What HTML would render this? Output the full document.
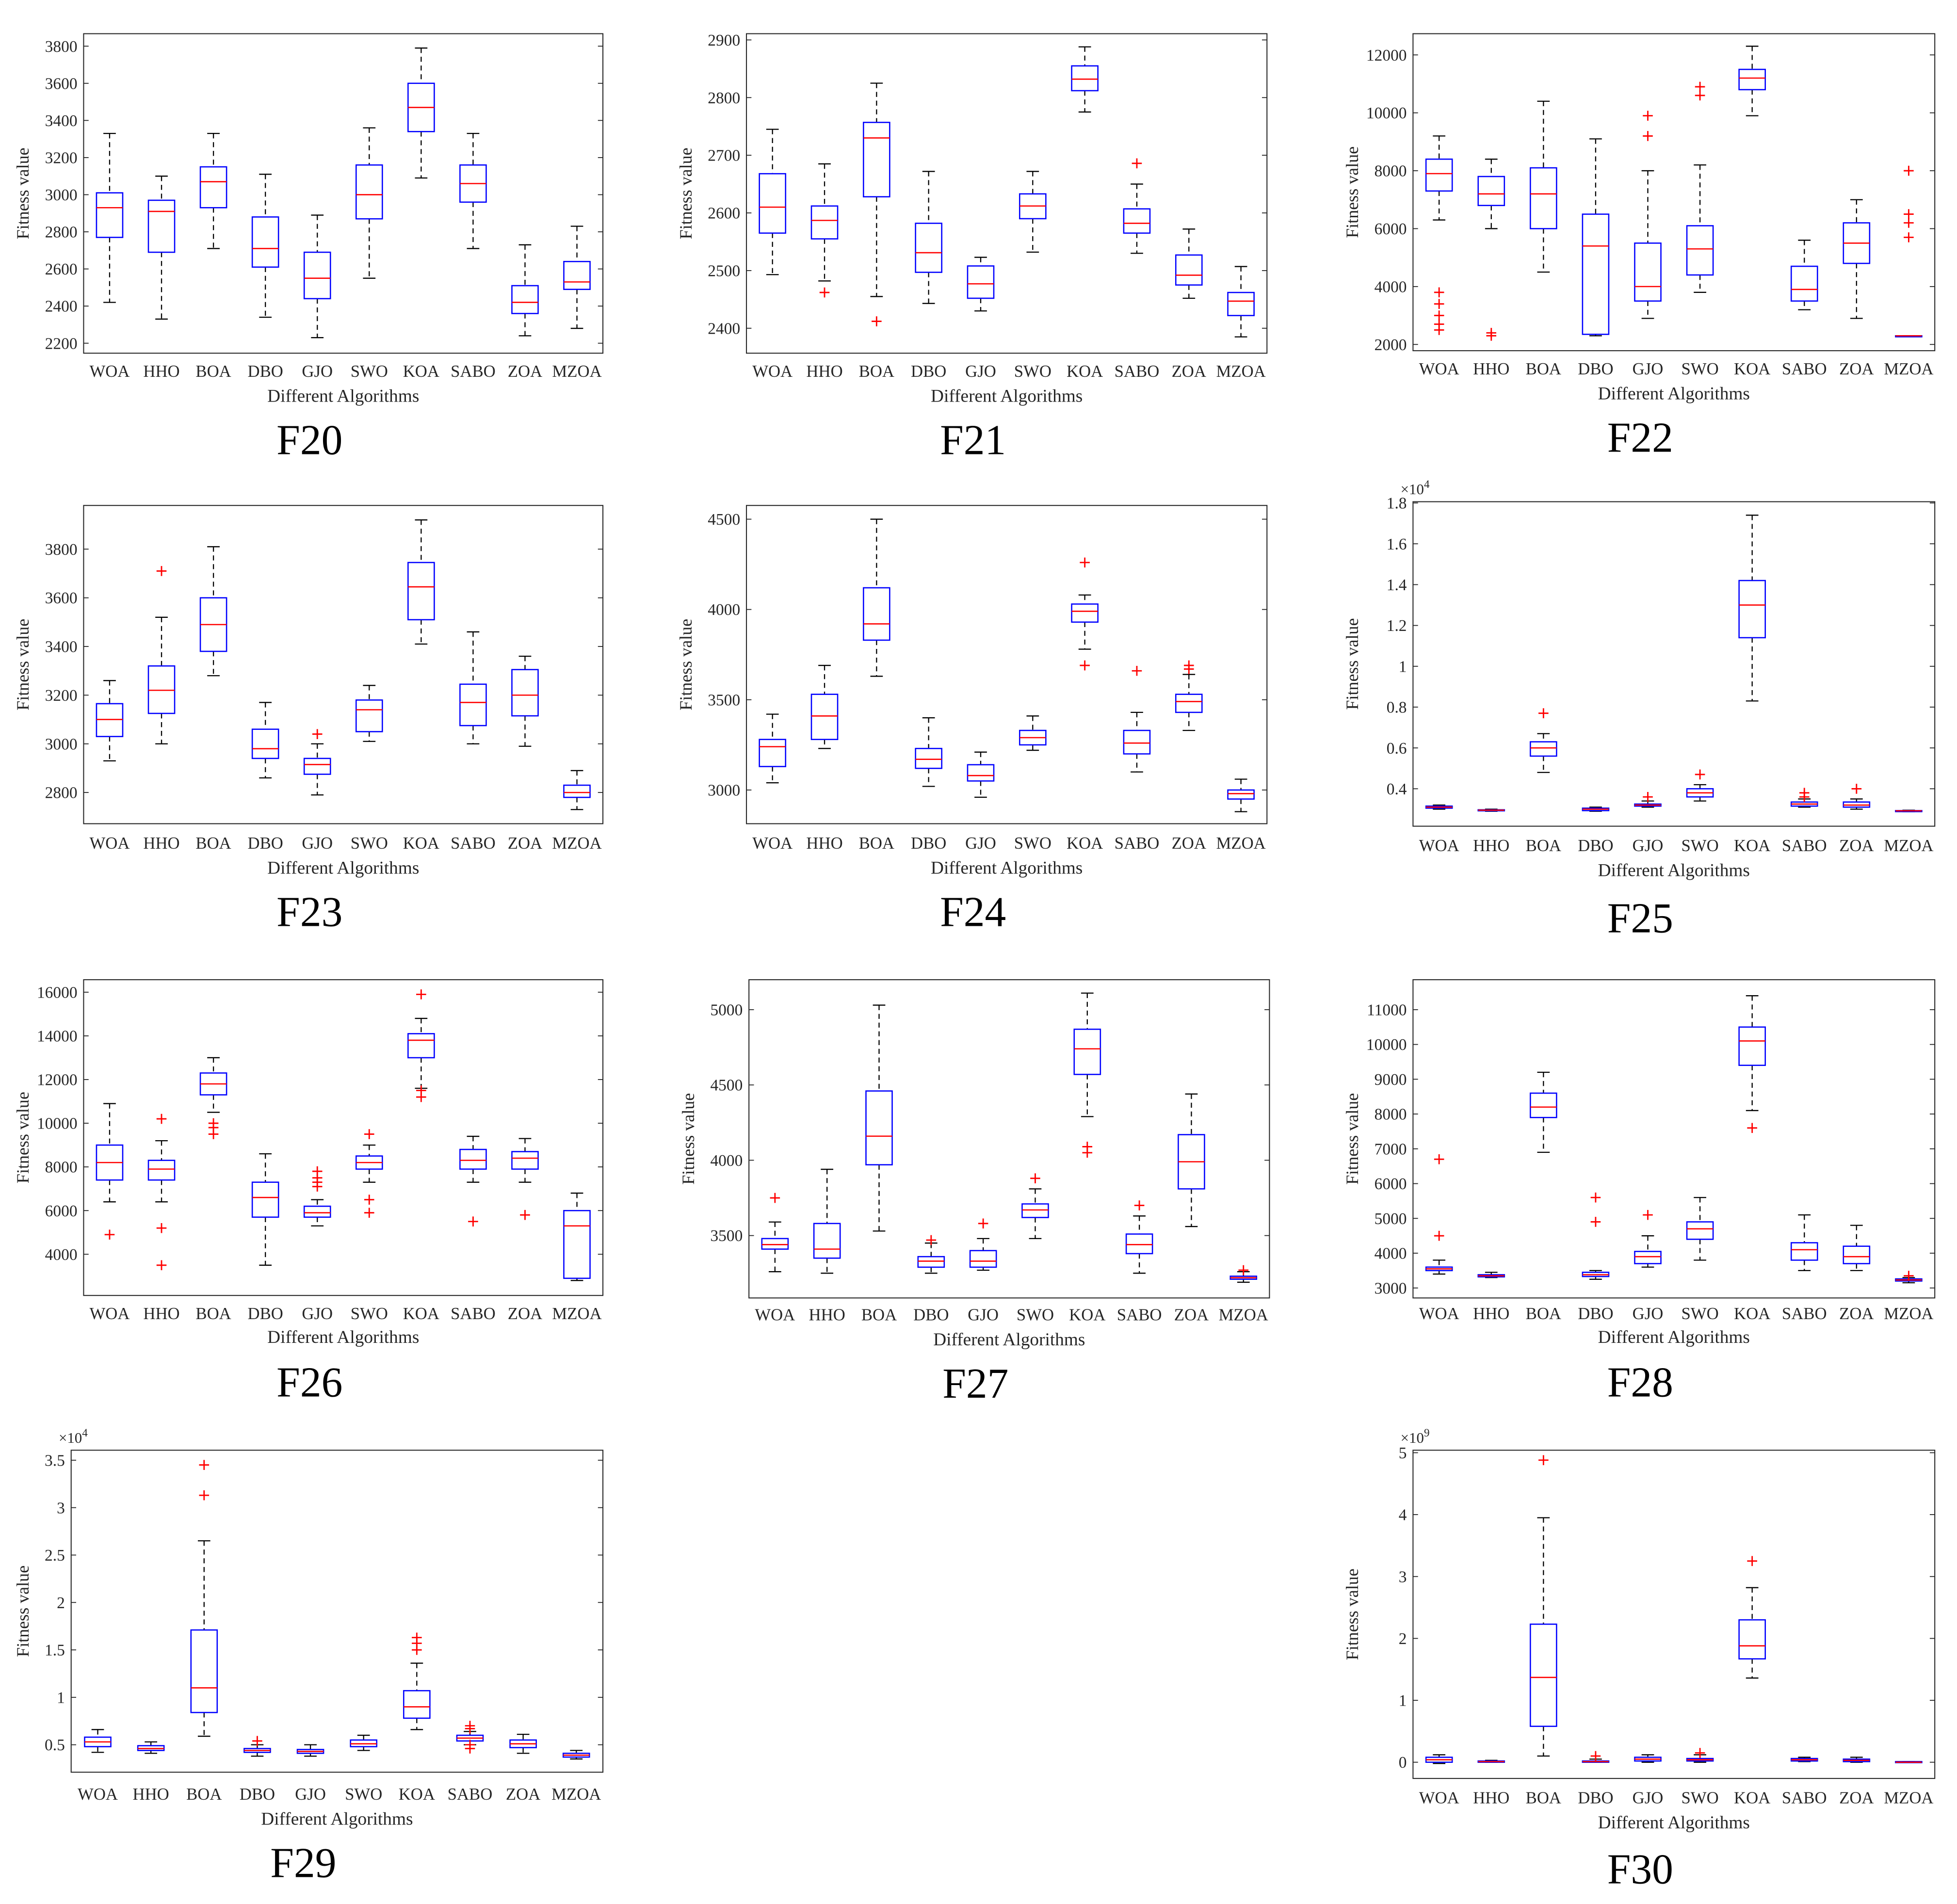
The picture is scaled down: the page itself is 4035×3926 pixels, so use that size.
<!DOCTYPE html>
<html><head><meta charset="utf-8"><style>
html,body{margin:0;padding:0;background:#fff;}
svg{display:block;font-family:"Liberation Serif",serif;}
</style></head><body>
<svg id="fig" width="4035" height="3926" viewBox="0 0 1567.8 1525.6" preserveAspectRatio="none" xmlns="http://www.w3.org/2000/svg"></svg>
<script>
const algorithms = ["WOA","HHO","BOA","DBO","GJO","SWO","KOA","SABO","ZOA","MZOA"];
// stats per box: [lowerWhisker, q1, median, q3, upperWhisker]
const f20Stats = [[2420,2770,2930,3010,3330],[2330,2690,2910,2970,3100],[2710,2930,3070,3150,3330],[2340,2610,2710,2880,3110],[2230,2440,2550,2690,2890],[2550,2870,3000,3160,3360],[3090,3340,3470,3600,3790],[2710,2960,3060,3160,3330],[2240,2360,2420,2510,2730],[2280,2490,2530,2640,2830]];
const f20Outliers = [[],[],[],[],[],[],[],[],[],[]];
const f21Stats = [[2493,2565,2610,2668,2745],[2482,2555,2587,2612,2685],[2455,2628,2730,2757,2825],[2443,2497,2531,2582,2672],[2430,2452,2477,2508,2523],[2532,2590,2612,2633,2672],[2775,2812,2832,2855,2888],[2530,2565,2582,2607,2650],[2452,2475,2492,2527,2572],[2385,2422,2447,2462,2507]];
const f21Outliers = [[],[2462],[2412],[],[],[],[],[2686],[],[]];
const f22Stats = [[6300,7300,7900,8400,9200],[6000,6800,7200,7800,8400],[4500,6000,7200,8100,10400],[2300,2350,5400,6500,9100],[2900,3500,4000,5500,8000],[3800,4400,5300,6100,8200],[9900,10800,11200,11500,12300],[3200,3500,3900,4700,5600],[2900,4800,5500,6200,7000],[2300,2300,2300,2300,2300]];
const f22Outliers = [[3800,3400,3000,2700,2500],[2400,2300],[],[],[9900,9200],[10900,10600],[],[],[],[8000,6500,6200,5700]];
const f23Stats = [[2930,3030,3100,3165,3260],[3000,3125,3220,3320,3520],[3280,3380,3490,3600,3810],[2860,2940,2980,3060,3170],[2790,2875,2915,2940,3000],[3010,3050,3140,3180,3240],[3410,3510,3645,3745,3920],[3000,3075,3170,3245,3460],[2990,3115,3200,3305,3360],[2730,2780,2800,2830,2890]];
const f23Outliers = [[],[3710],[],[],[3040],[],[],[],[],[]];
const f24Stats = [[3040,3130,3240,3280,3420],[3230,3280,3410,3530,3690],[3630,3830,3920,4120,4500],[3020,3120,3170,3230,3400],[2960,3050,3080,3140,3210],[3220,3250,3290,3330,3410],[3780,3930,3990,4030,4080],[3100,3200,3260,3330,3430],[3330,3430,3490,3530,3640],[2880,2950,2980,3000,3060]];
const f24Outliers = [[],[],[],[],[],[],[4260,3690],[3660],[3690,3670],[]];
const f25Stats = [[0.30,0.305,0.31,0.315,0.32],[0.29,0.292,0.295,0.297,0.30],[0.48,0.56,0.60,0.63,0.67],[0.29,0.293,0.30,0.305,0.31],[0.31,0.315,0.32,0.325,0.34],[0.34,0.36,0.38,0.40,0.42],[0.83,1.14,1.30,1.42,1.74],[0.31,0.315,0.325,0.335,0.35],[0.30,0.31,0.32,0.335,0.35],[0.288,0.29,0.292,0.293,0.295]];
const f25Outliers = [[],[],[0.77],[],[0.36],[0.47],[],[0.38,0.36],[0.40],[]];
const f26Stats = [[6400,7400,8200,9000,10900],[6400,7400,7900,8300,9200],[10500,11300,11800,12300,13000],[3500,5700,6600,7300,8600],[5300,5700,5900,6200,6500],[7300,7900,8200,8500,9000],[11600,13000,13800,14100,14800],[7300,7900,8300,8800,9400],[7300,7900,8400,8700,9300],[2800,2900,5300,6000,6800]];
const f26Outliers = [[4900],[10200,5200,3500],[10000,9800,9500],[],[7800,7500,7300,7100],[9500,6500,5900],[15900,11500,11200],[5500],[5800],[]];
const f27Stats = [[3260,3410,3440,3480,3590],[3250,3350,3410,3580,3940],[3530,3970,4160,4460,5030],[3250,3290,3330,3360,3450],[3270,3290,3330,3400,3480],[3480,3620,3670,3710,3810],[4290,4570,4740,4870,5110],[3250,3380,3440,3510,3630],[3560,3810,3990,4170,4440],[3190,3210,3220,3230,3260]];
const f27Outliers = [[3750],[],[],[3470],[3580],[3880],[4090,4050],[3700],[],[3270]];
const f28Stats = [[3400,3500,3550,3600,3800],[3300,3320,3350,3380,3450],[6900,7900,8200,8600,9200],[3250,3330,3380,3450,3500],[3600,3700,3900,4050,4500],[3800,4400,4700,4900,5600],[8100,9400,10100,10500,11400],[3500,3800,4100,4300,5100],[3500,3700,3900,4200,4800],[3150,3200,3230,3260,3300]];
const f28Outliers = [[6700,4500],[],[],[5600,4900],[5100],[],[7600],[],[],[3350]];
const f29Stats = [[0.42,0.48,0.53,0.58,0.66],[0.41,0.44,0.46,0.49,0.53],[0.59,0.84,1.10,1.71,2.65],[0.38,0.42,0.44,0.46,0.50],[0.38,0.41,0.43,0.45,0.50],[0.44,0.48,0.51,0.55,0.60],[0.66,0.78,0.90,1.07,1.36],[0.50,0.54,0.57,0.60,0.64],[0.41,0.47,0.51,0.55,0.61],[0.35,0.37,0.39,0.41,0.44]];
const f29Outliers = [[],[],[3.45,3.13],[0.54],[],[],[1.63,1.57,1.50],[0.70,0.67,0.50,0.46],[],[]];
const f30Stats = [[-0.02,0.0,0.04,0.08,0.12],[0.0,0.0,0.01,0.02,0.03],[0.10,0.58,1.37,2.23,3.95],[0.0,0.0,0.01,0.02,0.05],[0.0,0.02,0.05,0.08,0.12],[0.0,0.02,0.04,0.06,0.12],[1.36,1.67,1.88,2.30,2.82],[0.01,0.02,0.04,0.06,0.08],[0.0,0.01,0.03,0.05,0.08],[0.0,0.0,0.0,0.01,0.01]];
const f30Outliers = [[],[],[4.88],[0.10],[],[0.15],[3.25],[],[],[]];

const f20Ticks=[2200,2400,2600,2800,3000,3200,3400,3600,3800];
const f21Ticks=[2400,2500,2600,2700,2800,2900];
const f22Ticks=[2000,4000,6000,8000,10000,12000];
const f23Ticks=[2800,3000,3200,3400,3600,3800];
const f24Ticks=[3000,3500,4000,4500];
const f25Ticks=[0.4,0.6,0.8,1,1.2,1.4,1.6,1.8];
const f26Ticks=[4000,6000,8000,10000,12000,14000,16000];
const f27Ticks=[3500,4000,4500,5000];
const f28Ticks=[3000,4000,5000,6000,7000,8000,9000,10000,11000];
const f29Ticks=[0.5,1,1.5,2,2.5,3,3.5];
const f30Ticks=[0,1,2,3,4,5];

const NS="http://www.w3.org/2000/svg";
const fig=document.getElementById("fig");
function mk(tag,attrs,parent){const e=document.createElementNS(NS,tag);for(const k in attrs)e.setAttribute(k,attrs[k]);(parent||fig).appendChild(e);return e;}

const charts=[
 {t:"F20",x0:67,x1:483,y0:27,y1:283,vA:2200,pA:275,vB:3800,pB:37,ticks:f20Ticks,s:f20Stats,o:f20Outliers,ly:297,xl:317,ty:352},
 {t:"F21",x0:598,x1:1015,y0:27,y1:283,vA:2400,pA:263,vB:2900,pB:32,ticks:f21Ticks,s:f21Stats,o:f21Outliers,ly:297,xl:317,ty:352},
 {t:"F22",x0:1132,x1:1550,y0:27,y1:281,vA:2000,pA:276,vB:12000,pB:44,ticks:f22Ticks,s:f22Stats,o:f22Outliers,ly:295,xl:315,ty:350},
 {t:"F23",x0:67,x1:483,y0:405,y1:660,vA:2800,pA:635,vB:3800,pB:440,ticks:f23Ticks,s:f23Stats,o:f23Outliers,ly:675,xl:695,ty:730},
 {t:"F24",x0:598,x1:1015,y0:405,y1:660,vA:3000,pA:633,vB:4500,pB:416,ticks:f24Ticks,s:f24Stats,o:f24Outliers,ly:675,xl:695,ty:730},
 {t:"F25",x0:1132,x1:1550,y0:402,y1:662,vA:0.4,pA:632,vB:1.8,pB:403,ticks:f25Ticks,s:f25Stats,o:f25Outliers,ly:677,xl:697,ty:735,exp:"4"},
 {t:"F26",x0:67,x1:483,y0:785,y1:1038,vA:4000,pA:1005,vB:16000,pB:795,ticks:f26Ticks,s:f26Stats,o:f26Outliers,ly:1052,xl:1071,ty:1107},
 {t:"F27",x0:600,x1:1017,y0:785,y1:1040,vA:3500,pA:990,vB:5000,pB:809,ticks:f27Ticks,s:f27Stats,o:f27Outliers,ly:1053,xl:1073,ty:1108},
 {t:"F28",x0:1132,x1:1550,y0:785,y1:1040,vA:3000,pA:1032,vB:11000,pB:809,ticks:f28Ticks,s:f28Stats,o:f28Outliers,ly:1052,xl:1071,ty:1107},
 {t:"F29",x0:57,x1:483,y0:1162,y1:1420,vA:0.5,pA:1398,vB:3.5,pB:1170,ticks:f29Ticks,s:f29Stats,o:f29Outliers,ly:1437,xl:1457,ty:1492,exp:"4",ylx:18},
 {t:"F30",x0:1132,x1:1550,y0:1162,y1:1425,vA:0,pA:1412,vB:5,pB:1164,ticks:f30Ticks,s:f30Stats,o:f30Outliers,ly:1440,xl:1460,ty:1497,exp:"9"}
];

charts.forEach(c=>{
  const g=mk("g",{});
  
  
  const Y=v=>c.pA+(v-c.vA)*(c.pB-c.pA)/(c.vB-c.vA);
  const step=(c.x1-c.x0)/algorithms.length;
  const X=i=>c.x0+(i+0.5)*step;
  const frame=mk("rect",{x:c.x0,y:c.y0,width:c.x1-c.x0,height:c.y1-c.y0,fill:"none",stroke:"#262626","stroke-width":0.8},g);
  
  
  c.ticks.forEach(v=>{
    const y=Y(v);
    mk("line",{x1:c.x0,x2:c.x0+4,y1:y,y2:y,stroke:"#262626","stroke-width":0.7},g);
    mk("line",{x1:c.x1,x2:c.x1-4,y1:y,y2:y,stroke:"#262626","stroke-width":0.7},g);
    const t=mk("text",{x:c.x0-5,y:y+4.5,"text-anchor":"end","font-size":13,fill:"#262626"},g);
    t.textContent=String(v);
    
    
  });
  if(c.exp){
    const t=mk("text",{x:c.x0-10,y:c.y0-6,"font-size":12,fill:"#262626"},g);
    t.textContent="×10";
    const s=mk("tspan",{dy:-5,"font-size":9},t);s.textContent=c.exp;
    
    
  }
  const bw=21;
  c.s.forEach((st,i)=>{
    const x=X(i);
    const [lo,q1,md,q3,hi]=st;
    const bg=mk("g",{},g);
    
    
    mk("line",{x1:x,x2:x,y1:Y(hi),y2:Y(q3),stroke:"#000","stroke-width":0.9,"stroke-dasharray":"4,3"},bg);
    mk("line",{x1:x,x2:x,y1:Y(q1),y2:Y(lo),stroke:"#000","stroke-width":0.9,"stroke-dasharray":"4,3"},bg);
    mk("line",{x1:x-5,x2:x+5,y1:Y(hi),y2:Y(hi),stroke:"#000","stroke-width":0.9},bg);
    mk("line",{x1:x-5,x2:x+5,y1:Y(lo),y2:Y(lo),stroke:"#000","stroke-width":0.9},bg);
    mk("rect",{x:x-bw/2,y:Y(q3),width:bw,height:Math.max(0.8,Y(q1)-Y(q3)),fill:"none",stroke:"#0000ff","stroke-width":1},bg);
    mk("line",{x1:x-bw/2,x2:x+bw/2,y1:Y(md),y2:Y(md),stroke:"#ff0000","stroke-width":1},bg);
    c.o[i].forEach(v=>{
      const y=Y(v);
      const p=mk("path",{d:`M${x-4} ${y}H${x+4}M${x} ${y-4}V${y+4}`,stroke:"#ff0000","stroke-width":1.1,fill:"none"},bg);
      
      
    });
    const t=mk("text",{x:x,y:c.ly+5,"text-anchor":"middle","font-size":13.5,fill:"#262626"},g);
    t.textContent=algorithms[i];
    
    
  });
  const xl=mk("text",{x:(c.x0+c.x1)/2,y:c.xl+5,"text-anchor":"middle","font-size":14.5,fill:"#262626"},g);
  xl.textContent="Different Algorithms";
  
  
  const ylx=c.ylx||(c.x0-49), ymid=(c.y0+c.y1)/2;
  const yl=mk("text",{x:ylx,y:ymid,"text-anchor":"middle","font-size":14,fill:"#262626",transform:`rotate(-90 ${ylx} ${ymid})`,dy:5},g);
  yl.textContent="Fitness value";
  
  
  const tt=mk("text",{x:(c.x0+c.x1)/2-27,y:c.ty+12,"text-anchor":"middle","font-size":34,fill:"#000"},g);
  tt.textContent=c.t;
  
  
});
</script>
</body></html>
